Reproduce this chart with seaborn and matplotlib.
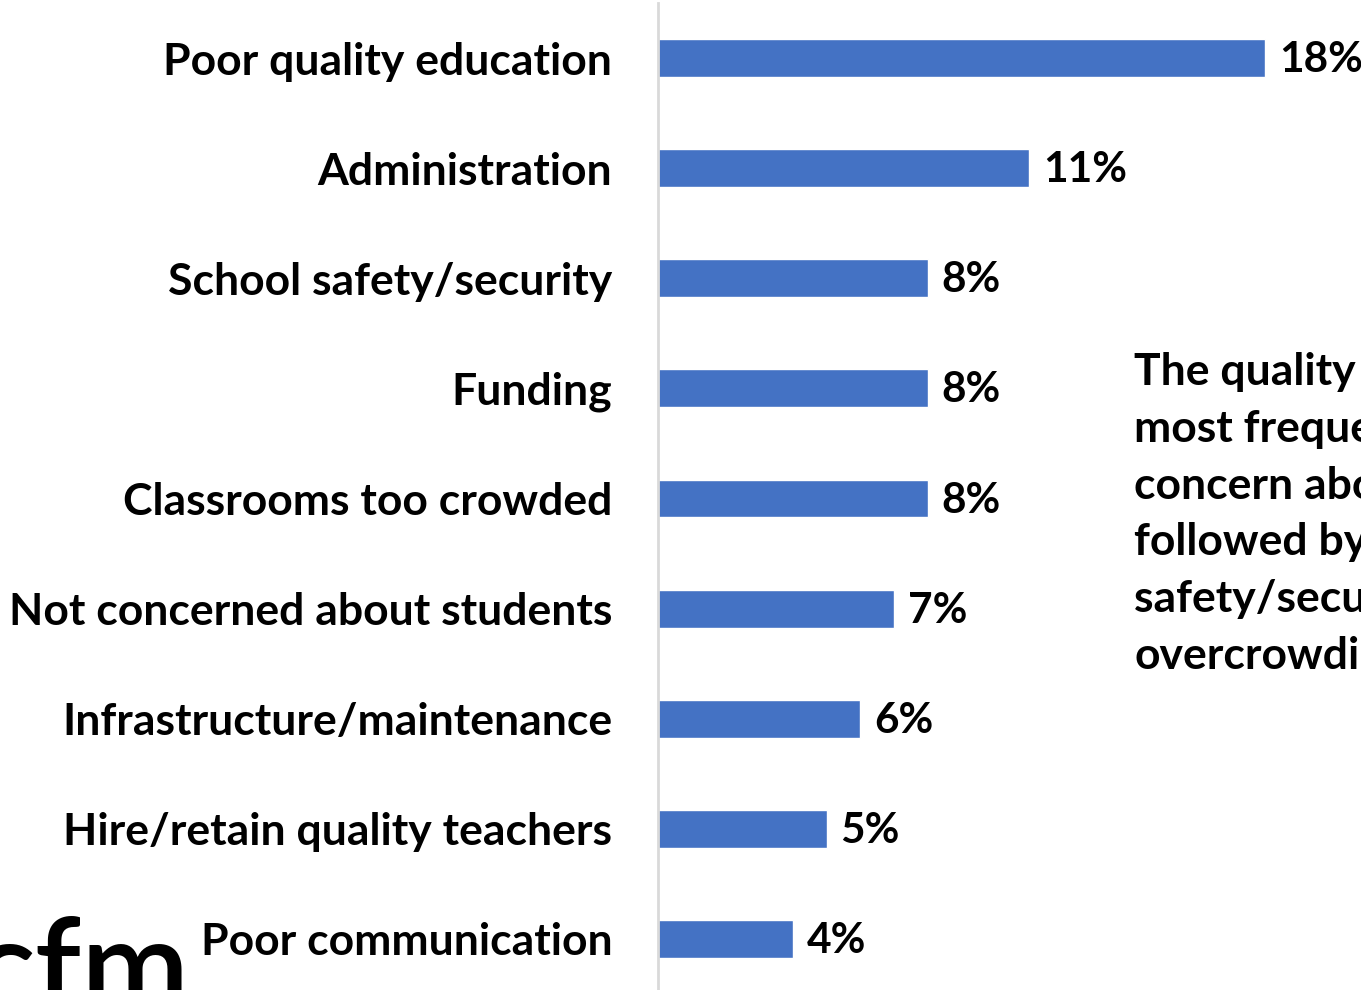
import matplotlib
matplotlib.use("Agg")
import matplotlib.pyplot as plt
import seaborn as sns
import pandas as pd

categories = [
    "Poor quality education",
    "Administration",
    "School safety/security",
    "Funding",
    "Classrooms too crowded",
    "Not concerned about students",
    "Infrastructure/maintenance",
    "Hire/retain quality teachers",
    "Poor communication",
]
values = [18, 11, 8, 8, 8, 7, 6, 5, 4]
value_labels = ["18%", "11%", "8%", "8%", "8%", "7%", "6%", "5%", "4%"]
note_lines = [
    "The quality of education is the",
    "most frequently mentioned",
    "concern about schools,",
    "followed by school",
    "safety/security, funding and",
    "overcrowding.",
]

sns.set_theme(style="white")
FONT = ["Lato", "DejaVu Sans"]
plt.rcParams["font.family"] = FONT

W, H = 1361, 990
fig = plt.figure(figsize=(W / 100, H / 100), dpi=100)
ax_left = 658 / W
ax = fig.add_axes([ax_left, 0, 1 - ax_left, 987 / H])

df = pd.DataFrame({"cat": categories, "val": values})
sns.barplot(data=df, x="val", y="cat", orient="h", color="#4472C4",
            saturation=1, width=0.345, ax=ax)

px_per_unit = 33.72
ax.set_xlim(0, (W - 658) / px_per_unit)
ax.set_ylim(8 + 51 / 110.1, -55 / 110.1)

for i, (v, lab) in enumerate(zip(values, value_labels)):
    ax.annotate(lab, xy=(v, i), xytext=(14, -2), textcoords="offset pixels",
                ha="left", va="center", fontsize=30.5, fontweight="bold",
                color="black", annotation_clip=False)

ax.set_xlabel("")
ax.set_ylabel("")
ax.set_xticks([])
ax.tick_params(axis="y", length=0, pad=33)
for lbl in ax.get_yticklabels():
    lbl.set_fontsize(32)
    lbl.set_fontweight("bold")
    lbl.set_color("black")
for s in ["top", "right", "bottom"]:
    ax.spines[s].set_visible(False)
ax.spines["left"].set_color("#d9d9d9")
ax.spines["left"].set_linewidth(2)

fig.text(1134 / W, 1 - 352 / H, "\n".join(note_lines), ha="left", va="top",
         fontsize=32, fontweight="bold", color="black", linespacing=1.505)

fig.text(-28 / W, -22 / H, "cfm", ha="left", va="baseline",
         fontsize=94, color="black", fontweight="semibold")

fig.savefig("out.png", dpi=100)
